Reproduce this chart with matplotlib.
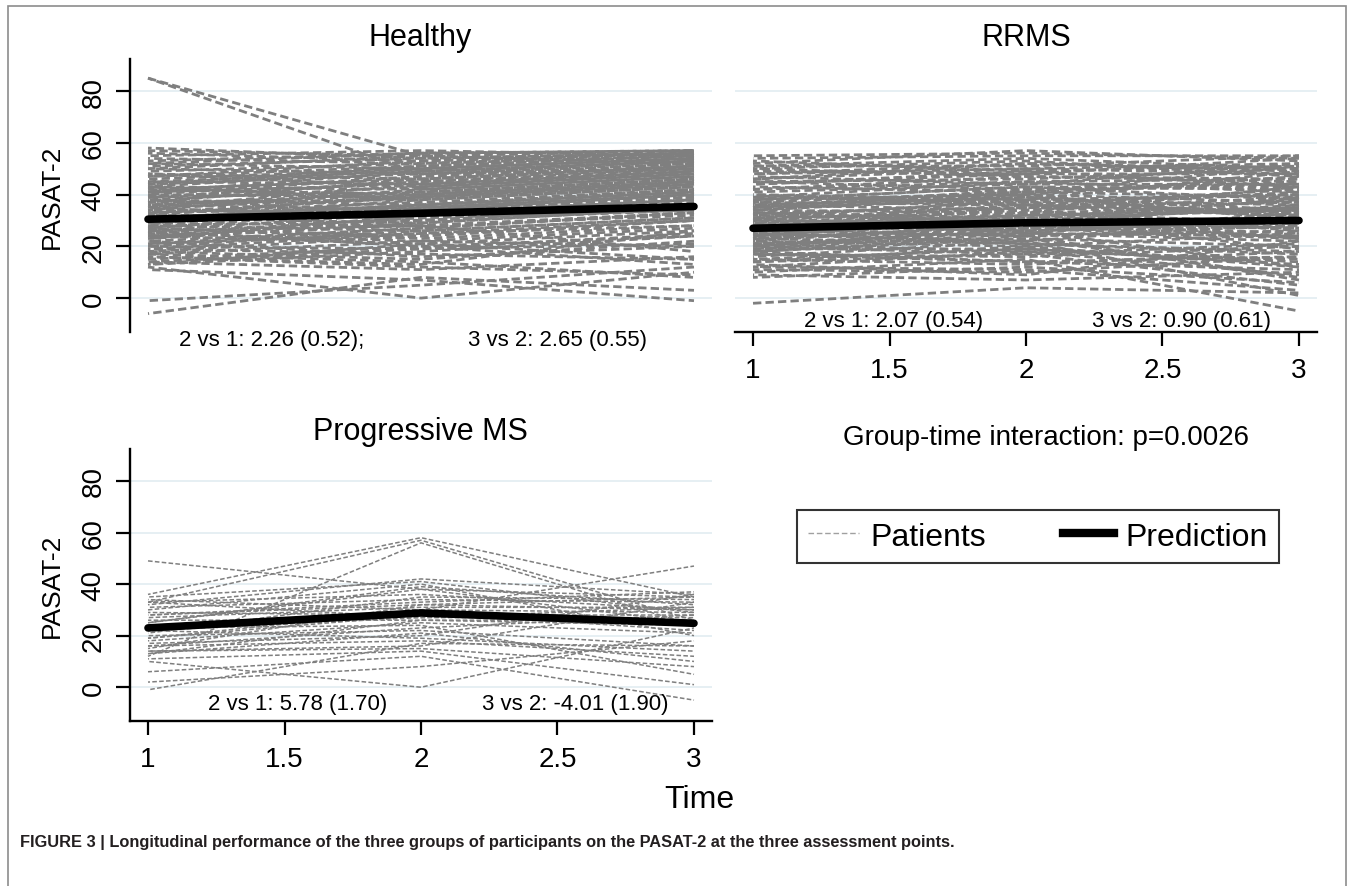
import matplotlib
matplotlib.use("Agg")
import matplotlib.pyplot as plt
from matplotlib.lines import Line2D
from matplotlib.patches import Rectangle

plt.rcParams['font.family'] = ['Liberation Sans', 'DejaVu Sans']

times = [1, 2, 3]

# Healthy: PASAT-2 per participant at the three time points (estimated)
healthy_t1 = [85, 85, -6, -1, 12, 13, 14, 15, 16, 17,
              18, 18, 19, 20, 20, 21, 22, 22, 23, 24,
              24, 25, 25, 26, 26, 27, 27, 28, 28, 29,
              29, 30, 30, 31, 31, 32, 32, 33, 33, 34,
              34, 35, 35, 36, 36, 37, 37, 38, 38, 39,
              39, 40, 40, 41, 41, 42, 42, 43, 43, 44,
              44, 45, 46, 47, 48, 49, 50, 50, 51, 52,
              53, 54, 55, 57, 58, 11, 14, 16, 19, 23,
              27, 31, 35, 39, 43, 47, 21, 26, 33, 38,
              45, 48, 52, 29, 24, 36, 41, 17, 56, 13]
healthy_t2 = [55, 48, 8, 5, 0, 18, 11, 20, 13, 22,
              15, 24, 17, 26, 19, 25, 27, 16, 29, 21,
              30, 22, 31, 28, 33, 24, 35, 30, 26, 36,
              28, 34, 38, 29, 36, 40, 31, 37, 35, 42,
              33, 39, 44, 34, 41, 38, 46, 36, 43, 45,
              41, 47, 39, 44, 49, 40, 46, 50, 42, 48,
              51, 44, 50, 53, 46, 52, 55, 48, 54, 50,
              56, 52, 57, 55, 54, 7, 19, 12, 25, 32,
              23, 36, 30, 45, 38, 51, 27, 20, 39, 33,
              49, 43, 56, 34, 28, 40, 47, 14, 53, 21]
healthy_t3 = [52, 50, 3, 12, 10, 24, 16, 13, 26, 20,
              22, 30, 15, 31, 25, 28, 33, 20, 35, 26,
              36, 27, 34, 32, 38, 30, 40, 34, 31, 42,
              33, 39, 43, 35, 41, 45, 36, 42, 40, 47,
              38, 44, 48, 40, 46, 43, 50, 41, 48, 49,
              46, 52, 44, 49, 53, 45, 51, 54, 47, 52,
              55, 49, 54, 56, 51, 55, 57, 53, 56, 54,
              57, 56, 55, 57, 56, -1, 21, 9, 30, 37,
              28, 41, 35, 50, 44, 55, 33, 24, 45, 38,
              53, 48, 57, 39, 18, 46, 51, 8, 56, 15]

# RRMS
rrms_t1 = [-2, 8, 9, 10, 11, 12, 13, 14, 15, 16,
           17, 18, 18, 19, 19, 20, 20, 21, 21, 22,
           22, 23, 23, 24, 24, 25, 25, 26, 26, 27,
           27, 28, 28, 29, 29, 30, 30, 31, 31, 32,
           32, 33, 33, 34, 34, 35, 35, 36, 36, 37,
           37, 38, 38, 39, 40, 41, 42, 43, 44, 45,
           46, 47, 48, 49, 50, 51, 52, 53, 54, 55,
           12, 15, 18, 21, 24, 27, 30, 33, 36, 39,
           42, 45, 48, 51, 20, 25, 29, 34, 38, 44,
           14, 17, 23, 28, 31, 35, 40, 46, 50, 26]
rrms_t2 = [4, 12, 7, 15, 10, 18, 9, 20, 13, 22,
           16, 24, 14, 25, 19, 17, 27, 23, 26, 20,
           29, 21, 28, 25, 31, 22, 30, 33, 24, 28,
           35, 26, 32, 34, 27, 36, 29, 33, 38, 30,
           37, 35, 31, 40, 33, 38, 42, 34, 39, 41,
           36, 43, 40, 45, 38, 44, 47, 41, 49, 46,
           50, 44, 52, 48, 53, 51, 57, 49, 55, 56,
           11, 19, 23, 18, 30, 24, 35, 29, 40, 37,
           45, 42, 50, 54, 26, 21, 32, 39, 43, 48,
           17, 14, 27, 31, 25, 41, 36, 52, 47, 30]
rrms_t3 = [2, 6, 10, -5, 16, 9, 22, 12, 18, 1,
           20, 26, 11, 24, 14, 21, 29, 8, 28, 25,
           31, 17, 27, 33, 23, 30, 19, 35, 28, 24,
           37, 30, 34, 26, 39, 32, 36, 29, 40, 35,
           33, 41, 38, 30, 43, 36, 44, 39, 34, 45,
           42, 38, 47, 41, 49, 44, 46, 51, 43, 50,
           48, 52, 49, 54, 47, 55, 53, 51, 55, 54,
           3, 13, 20, 15, 27, 7, 32, 25, 37, 40,
           46, 43, 52, 50, 12, 18, 35, 31, 42, 48,
           5, 16, 23, 34, 22, 39, 33, 50, 45, 27]

# Progressive MS
prog_t1 = [49, 36, 34, 33, 33, 32, 31, 30, 29, 28,
           27, 26, 25, 24, 23, 22, 21, 20, 19, 18,
           17, 16, 15, 14, 13, 12, 11, 10, 6, 2,
           -1, 25, 19, 13, 35, 16, 22, 28, 14, 33]
prog_t2 = [38, 58, 30, 57, 36, 42, 34, 40, 28, 33,
           31, 26, 38, 29, 24, 27, 35, 22, 30, 25,
           20, 18, 32, 16, 26, 56, 14, 0, 12, 8,
           17, 39, 28, 21, 41, 23, 19, 32, 15, 27]
prog_t3 = [25, 35, 47, 26, 30, 36, 33, 20, 28, 37,
           31, 24, 35, 22, 5, 27, 34, 16, 29, 21,
           36, 12, 30, 33, 26, 24, 1, 23, -5, 18,
           16, 32, 25, 10, 29, 28, 14, 35, 8, 31]

# model predictions
healthy_pred = [30.5, 32.8, 35.4]
rrms_pred = [27.0, 29.1, 30.0]
prog_pred = [23.0, 28.8, 24.8]

healthy_txt = ["2 vs 1: 2.26 (0.52);", "3 vs 2: 2.65 (0.55)"]
rrms_txt = ["2 vs 1: 2.07 (0.54)", "3 vs 2: 0.90 (0.61)"]
prog_txt = ["2 vs 1: 5.78 (1.70)", "3 vs 2: -4.01 (1.90)"]

yticks = [0, 20, 40, 60, 80]
xticks = [1, 1.5, 2, 2.5, 3]
xtick_labels = ["1", "1.5", "2", "2.5", "3"]

W, H = 1354, 887
fig = plt.figure(figsize=(W / 100, H / 100), dpi=100)


def px(x, y):
    return x / W, 1 - y / H


def axes_box(left, top, right, bottom):
    return [left / W, 1 - bottom / H, (right - left) / W, (bottom - top) / H]


GRAY = '#7f7f7f'
GRID = '#e4eef2'


def panel(box, t1, t2, t3, pred, left_axis, bottom_axis, lw):
    ax = fig.add_axes(box)
    ax.set_xlim(0.934, 3.066)
    ax.set_ylim(-13.1, 92.4)
    for v in yticks:
        ax.axhline(v, color=GRID, lw=1.3, zorder=0)
    for i, row in enumerate(zip(t1, t2, t3)):
        # shift the dash phase so the gaps do not line up column-wise
        ax.plot(times, row, color=GRAY, lw=lw,
                ls=((i * 1.3) % 4.5, (3, 1.5)), zorder=2)
    ax.plot(times, pred, color='black', lw=5.5,
            solid_capstyle='round', solid_joinstyle='round', zorder=3)
    for s in ['top', 'right']:
        ax.spines[s].set_visible(False)
    ax.spines['left'].set_visible(left_axis)
    ax.spines['bottom'].set_visible(bottom_axis)
    for s in ax.spines.values():
        s.set_linewidth(1.7)
    if left_axis:
        ax.set_yticks(yticks)
        ax.set_yticklabels([str(v) for v in yticks], rotation=90, va='center')
        ax.tick_params(axis='y', length=10, width=1.6, labelsize=20, pad=7)
        ax.set_ylabel("PASAT-2", fontsize=19, labelpad=12)
    else:
        ax.set_yticks([])
    if bottom_axis:
        ax.set_xticks(xticks)
        ax.set_xticklabels(xtick_labels)
        ax.tick_params(axis='x', length=10, width=1.6, labelsize=20, pad=8)
    else:
        ax.set_xticks([])
    return ax


ax1 = panel(axes_box(130, 60, 712, 333), healthy_t1, healthy_t2, healthy_t3,
            healthy_pred, True, False, 2.0)
ax2 = panel(axes_box(735, 60, 1317, 333), rrms_t1, rrms_t2, rrms_t3,
            rrms_pred, False, True, 2.0)
ax3 = panel(axes_box(130, 450, 712, 722), prog_t1, prog_t2, prog_t3,
            prog_pred, True, True, 1.1)

# titles
fig.text(*px(420, 38), "Healthy", fontsize=22, ha='center', va='center')
fig.text(*px(1026, 38), "RRMS", fontsize=22, ha='center', va='center')
fig.text(*px(420, 432), "Progressive MS", fontsize=22, ha='center', va='center')

# contrast annotations
for (x, y), s in zip([(272, 341), (557, 341)], healthy_txt):
    fig.text(*px(x, y), s, fontsize=16, ha='center', va='center')
for (x, y), s in zip([(894, 322), (1181, 322)], rrms_txt):
    fig.text(*px(x, y), s, fontsize=16, ha='center', va='center')
for (x, y), s in zip([(298, 705), (575, 705)], prog_txt):
    fig.text(*px(x, y), s, fontsize=16, ha='center', va='center')

fig.text(*px(699, 800), "Time", fontsize=23, ha='center', va='center')
fig.text(*px(1046, 438), "Group-time interaction: p=0.0026", fontsize=20,
         ha='center', va='center')

handles = [Line2D([], [], color='#a0a0a0', lw=1.0, ls=(0, (4, 2))),
           Line2D([], [], color='black', lw=6)]
leg = fig.legend(handles, ["Patients", "Prediction"], loc='center',
                 bbox_to_anchor=px(1038, 537.5), ncol=2, fontsize=23,
                 frameon=True, fancybox=False, edgecolor='black',
                 handlelength=1.6, handletextpad=0.35, columnspacing=2.4,
                 borderpad=0.35)
leg.get_frame().set_linewidth(1.5)

# outer frame and caption
fig.add_artist(Rectangle((8 / W, -0.05), 1338 / W, 1.05 - 7 / H,
                         transform=fig.transFigure, fill=False,
                         edgecolor='#8c8c8c', lw=1.2, clip_on=False))
fig.text(*px(20, 843), "FIGURE 3 | Longitudinal performance of the three groups "
         "of participants on the PASAT-2 at the three assessment points.",
         fontsize=11.8, fontweight='bold', ha='left', va='center', color='#231f20')

fig.savefig("out.png", dpi=100)
